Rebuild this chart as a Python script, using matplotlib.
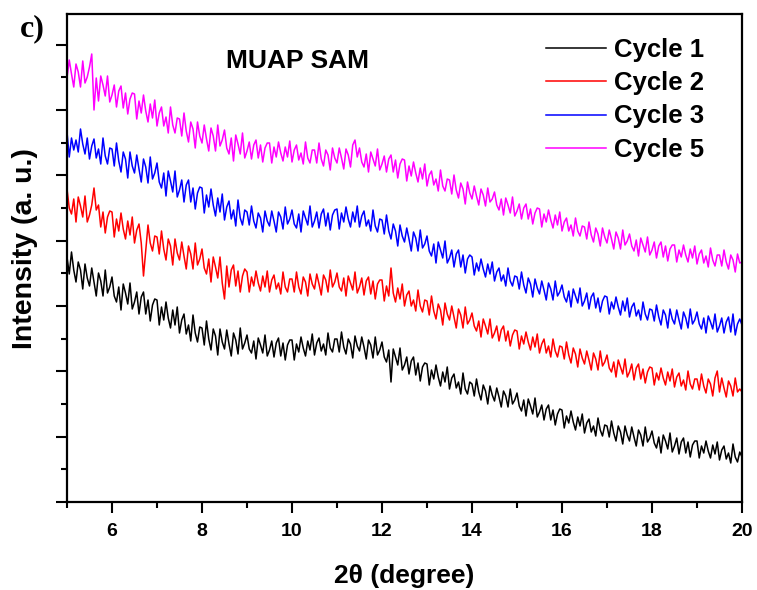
import numpy as np
import matplotlib
matplotlib.use("Agg")
import matplotlib.pyplot as plt
from matplotlib.ticker import MultipleLocator

# 2theta grid (degree), step 0.05
two_theta = np.round(np.linspace(5.0, 20.0, 301), 3)

labels = ["Cycle 1", "Cycle 2", "Cycle 3", "Cycle 5"]
colors = ["#000000", "#FF0000", "#0000FF", "#FF00FF"]

cycle1 = [
    245, 228, 250, 232, 220, 240, 232, 213, 238, 224,
    216, 234, 220, 206, 229, 221, 206, 232, 209, 215,
    225, 206, 200, 215, 192, 218, 209, 198, 219, 193,
    200, 210, 188, 205, 210, 188, 202, 181, 197, 203,
    202, 177, 195, 182, 200, 184, 174, 192, 177, 195,
    169, 182, 188, 168, 177, 161, 187, 169, 160, 175,
    174, 157, 181, 163, 152, 173, 166, 147, 173, 160,
    153, 172, 158, 146, 169, 162, 148, 174, 153, 159,
    167, 153, 149, 161, 143, 164, 157, 149, 167, 146,
    152, 161, 145, 159, 164, 146, 159, 142, 157, 162,
    162, 142, 158, 150, 165, 154, 146, 161, 152, 168,
    147, 159, 164, 151, 158, 147, 169, 154, 150, 163,
    163, 150, 170, 155, 148, 163, 158, 144, 166, 156,
    151, 165, 155, 143, 162, 157, 144, 165, 147, 152,
    160, 145, 140, 152, 120, 153, 145, 137, 154, 132,
    137, 145, 128, 141, 145, 127, 139, 121, 135, 139,
    138, 117, 132, 123, 137, 125, 116, 130, 120, 135,
    113, 124, 128, 114, 120, 108, 129, 113, 108, 120,
    118, 106, 123, 110, 102, 117, 111, 98, 116, 107,
    101, 114, 105, 95, 111, 106, 95, 113, 98, 102,
    109, 96, 91, 102, 86, 103, 96, 88, 104, 85,
    90, 97, 82, 93, 97, 82, 92, 77, 88, 93,
    92, 74, 86, 79, 91, 80, 72, 85, 76, 88,
    69, 79, 83, 70, 76, 66, 84, 72, 66, 77,
    76, 65, 81, 69, 61, 76, 70, 58, 76, 67,
    61, 75, 65, 56, 72, 67, 56, 75, 60, 64,
    71, 59, 54, 65, 49, 67, 61, 53, 69, 50,
    56, 64, 48, 60, 64, 49, 60, 45, 57, 61,
    61, 44, 56, 49, 61, 51, 44, 57, 48, 60,
    42, 52, 56, 43, 49, 39, 58, 45, 40, 50,
    45]

cycle2 = [
    313, 294, 288, 303, 280, 305, 296, 285, 306, 280,
    287, 297, 314, 292, 297, 275, 290, 269, 285, 291,
    290, 265, 283, 271, 289, 273, 263, 281, 267, 285,
    259, 272, 278, 259, 226, 252, 277, 259, 251, 266,
    265, 248, 271, 253, 242, 263, 256, 237, 263, 249,
    242, 260, 246, 233, 256, 248, 233, 259, 237, 243,
    253, 234, 228, 243, 220, 245, 235, 224, 245, 219,
    203, 236, 215, 232, 237, 216, 231, 210, 226, 233,
    230, 210, 225, 216, 231, 219, 211, 226, 215, 231,
    210, 222, 227, 213, 219, 208, 230, 215, 210, 223,
    223, 210, 230, 215, 208, 225, 220, 206, 228, 218,
    213, 228, 218, 207, 227, 222, 210, 232, 215, 220,
    229, 215, 211, 224, 206, 226, 219, 212, 230, 209,
    215, 224, 207, 221, 225, 208, 221, 203, 218, 222,
    222, 201, 216, 206, 234, 209, 200, 214, 203, 218,
    196, 207, 211, 196, 202, 191, 212, 196, 190, 202,
    201, 187, 206, 191, 183, 198, 192, 177, 199, 188,
    182, 196, 185, 174, 193, 187, 174, 195, 178, 182,
    189, 176, 171, 181, 165, 183, 176, 168, 183, 164,
    169, 176, 161, 172, 176, 161, 171, 156, 167, 172,
    171, 153, 166, 158, 170, 160, 152, 165, 155, 168,
    149, 158, 163, 149, 156, 145, 163, 151, 145, 156,
    155, 143, 160, 147, 139, 154, 148, 135, 153, 144,
    138, 151, 142, 132, 149, 143, 132, 151, 136, 140,
    147, 134, 130, 140, 125, 142, 135, 128, 143, 125,
    130, 138, 122, 134, 138, 123, 133, 119, 130, 135,
    134, 117, 129, 122, 134, 124, 117, 130, 121, 133,
    115, 125, 129, 116, 122, 112, 131, 118, 113, 123,
    123, 112, 128, 116, 109, 123, 118, 106, 124, 131,
    110, 124, 114, 105, 121, 116, 106, 124, 110, 113,
    110]

cycle3 = [
    370, 345, 364, 352, 362, 350, 373, 358, 348, 364,
    343, 356, 363, 344, 353, 338, 364, 346, 338, 354,
    353, 336, 359, 341, 330, 350, 343, 324, 350, 336,
    329, 347, 333, 320, 343, 335, 319, 345, 323, 329,
    339, 320, 314, 329, 306, 331, 321, 310, 331, 305,
    312, 322, 300, 317, 322, 300, 314, 293, 309, 315,
    314, 289, 307, 295, 313, 297, 286, 304, 290, 308,
    282, 295, 301, 283, 292, 276, 302, 284, 277, 292,
    290, 277, 296, 281, 274, 289, 284, 270, 291, 281,
    276, 291, 281, 270, 290, 285, 273, 295, 278, 283,
    292, 278, 274, 288, 270, 291, 284, 277, 296, 275,
    281, 290, 274, 288, 293, 276, 289, 272, 287, 292,
    293, 273, 289, 280, 295, 283, 275, 290, 280, 296,
    275, 286, 291, 276, 282, 271, 292, 276, 270, 283,
    282, 268, 287, 271, 263, 278, 271, 256, 277, 266,
    260, 274, 263, 251, 270, 264, 251, 272, 254, 258,
    266, 251, 246, 258, 239, 260, 252, 244, 261, 239,
    244, 252, 235, 248, 252, 235, 247, 229, 243, 247,
    245, 227, 239, 231, 243, 233, 225, 238, 228, 240,
    221, 230, 234, 221, 227, 216, 234, 221, 216, 226,
    225, 213, 230, 217, 209, 224, 218, 205, 223, 214,
    208, 221, 212, 202, 219, 213, 202, 221, 206, 210,
    217, 205, 200, 211, 195, 213, 206, 199, 214, 196,
    201, 209, 193, 205, 209, 194, 204, 190, 201, 206,
    205, 188, 200, 193, 205, 195, 187, 201, 191, 204,
    185, 195, 199, 186, 192, 182, 200, 188, 182, 193,
    192, 181, 197, 185, 177, 192, 187, 174, 193, 183,
    178, 192, 182, 173, 190, 184, 174, 193, 178, 182,
    190, 178, 173, 184, 169, 186, 180, 173, 188, 170,
    176, 184, 169, 180, 185, 170, 188, 167, 178, 183,
    177]

cycle5 = [
    424, 442, 428, 415, 438, 430, 415, 441, 419, 425,
    435, 448, 392, 424, 401, 426, 417, 406, 426, 400,
    407, 417, 395, 411, 416, 394, 409, 388, 403, 409,
    408, 383, 401, 389, 407, 391, 380, 398, 384, 402,
    376, 389, 395, 376, 385, 369, 395, 377, 369, 384,
    383, 366, 389, 371, 360, 380, 373, 354, 380, 366,
    359, 377, 363, 351, 374, 366, 351, 377, 356, 362,
    372, 354, 348, 364, 341, 367, 358, 348, 369, 344,
    351, 360, 343, 357, 362, 344, 357, 340, 354, 359,
    359, 339, 355, 345, 360, 349, 341, 355, 345, 361,
    340, 352, 357, 342, 349, 338, 360, 344, 339, 352,
    352, 339, 359, 343, 336, 352, 347, 332, 354, 344,
    339, 354, 344, 333, 353, 347, 335, 357, 362, 345,
    354, 340, 335, 348, 330, 350, 343, 336, 353, 332,
    338, 346, 330, 343, 347, 330, 342, 324, 338, 343,
    342, 321, 336, 326, 340, 329, 320, 334, 323, 338,
    316, 327, 331, 317, 323, 311, 332, 316, 311, 323,
    322, 308, 327, 312, 304, 319, 313, 298, 320, 309,
    303, 316, 306, 297, 313, 307, 296, 314, 300, 303,
    310, 297, 292, 303, 287, 304, 297, 289, 305, 286,
    291, 298, 283, 294, 298, 283, 293, 278, 289, 294,
    293, 275, 288, 280, 292, 282, 274, 287, 277, 290,
    271, 280, 284, 271, 277, 266, 284, 271, 266, 276,
    275, 263, 280, 267, 260, 274, 268, 256, 274, 265,
    259, 272, 263, 253, 270, 264, 253, 272, 257, 261,
    268, 256, 251, 262, 246, 264, 257, 250, 265, 247,
    252, 260, 244, 256, 260, 245, 256, 241, 253, 257,
    257, 240, 252, 245, 257, 247, 240, 253, 244, 256,
    238, 248, 252, 239, 246, 235, 254, 242, 236, 247,
    247, 236, 252, 240, 233, 247, 242, 230, 248, 239,
    240]

series = [cycle1, cycle2, cycle3, cycle5]

W, H = 757, 590
fig = plt.figure(figsize=(W / 100, H / 100), dpi=100)
ax = fig.add_axes([67 / W, 1 - 502 / H, (742 - 67) / W, (502 - 14) / H])

for vals, lab, col in zip(series, labels, colors):
    ax.plot(two_theta, vals, color=col, lw=1.1, label=lab)

ax.set_xlim(5, 20)
ax.set_ylim(0, 488)
ax.xaxis.set_major_locator(MultipleLocator(2))
ax.xaxis.set_minor_locator(MultipleLocator(1))
ax.yaxis.set_major_locator(MultipleLocator(65.33))
ax.yaxis.set_minor_locator(MultipleLocator(32.665))
ax.tick_params(axis="both", which="major", direction="out", length=8, width=1.5)
ax.tick_params(axis="both", which="minor", direction="out", length=4.3, width=1.5)
ax.tick_params(axis="x", which="both", top=False, pad=7)
ax.tick_params(axis="y", which="both", right=False, labelleft=False)
for sp in ax.spines.values():
    sp.set_linewidth(1.6)

for t in ax.get_xticklabels():
    t.set_fontfamily("Liberation Sans")
    t.set_fontweight("bold")
    t.set_fontsize(14)

ax.set_xlabel("2\u03b8 (degree)", fontsize=19, fontweight="bold", family="Liberation Sans")
ax.set_ylabel("Intensity (a. u.)", fontsize=20.5, fontweight="bold", family="Liberation Sans")
ax.xaxis.set_label_coords(0.5, -0.128)
ax.yaxis.set_label_coords(-0.043, 0.52)

ax.text(0.342, 0.904, "MUAP SAM", transform=ax.transAxes, ha="center", va="center",
        fontsize=19, fontweight="bold", family="Liberation Sans")
fig.text(32 / W, 1 - 29 / H, "c)", ha="center", va="center", fontsize=23,
         fontweight="bold", family="Liberation Serif")

leg = ax.legend(loc="upper left", bbox_to_anchor=((546 - 67) / 675, (502 - 38) / 488),
                frameon=False, borderpad=0, borderaxespad=0, handlelength=2.35,
                handletextpad=0.3, labelspacing=0.36,
                prop={"family": "Liberation Sans", "weight": "bold", "size": 18.5})

fig.savefig("out.png", dpi=100)
